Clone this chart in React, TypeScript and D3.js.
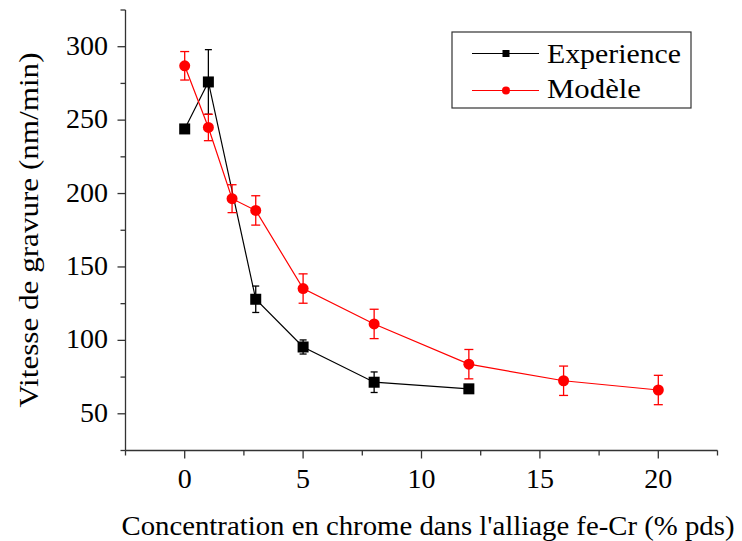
import React from "react";
import * as d3 from "d3";

const expX = [0, 1, 3, 5, 8, 12];
const expY = [244, 276, 128, 95.5, 71.5, 67];
const expErr = [0, 22, 9, 4.8, 7, 0];

const modX = [0, 1, 2, 3, 5, 8, 12, 16, 20];
const modY = [287, 245, 196.5, 188.5, 135.3, 111.2, 83.8, 72.5, 66.2];
const modErr = [9.7, 9, 9.5, 10, 10, 10, 10, 10, 10];

const xTicks = [0, 5, 10, 15, 20];
const yTicks = [50, 100, 150, 200, 250, 300];
const seriesNames = ["Experience", "Modèle"];
const xTitle = "Concentration en chrome dans l'alliage fe-Cr (% pds)";
const yTitle = "Vitesse de gravure (nm/min)";

const FONT = "Liberation Serif, Times New Roman, Times, Tinos, serif";

export default function App() {
  const W = 742, H = 541;
  const x = d3.scaleLinear().domain([-2.5, 22.5]).range([125.5, 717.5]);
  const y = d3.scaleLinear().domain([25, 325]).range([450.5, 10]);
  const minorX = d3.range(-2.5, 22.6, 2.5).filter((v) => !xTicks.includes(v));
  const minorY = d3.range(25, 326, 25).filter((v) => !yTicks.includes(v));

  const expPts = expX.map((v, i) => [x(v), y(expY[i])] as [number, number]);
  const modPts = modX.map((v, i) => [x(v), y(modY[i])] as [number, number]);
  const path = d3.line();

  const errBar = (cx: number, v: number, e: number, color: string, key: string, cap: number) => {
    if (!e) return null;
    const t = y(v + e), b = y(v - e);
    return (
      <g key={key} stroke={color} strokeWidth={1.3} fill="none">
        <line x1={cx} x2={cx} y1={t} y2={b} />
        <line x1={cx - cap} x2={cx + cap} y1={t} y2={t} />
        <line x1={cx - cap} x2={cx + cap} y1={b} y2={b} />
      </g>
    );
  };

  return (
    <div style={{ position: "fixed", left: 0, top: 0 }}>
      <svg width={W} height={H} style={{ display: "block", background: "#fff" }}>
        <rect width={W} height={H} fill="#fff" />
        <g stroke="#333" strokeWidth={1.3}>
          <line x1={x(-2.5)} x2={x(-2.5)} y1={y(325)} y2={y(25)} />
          <line x1={x(-2.5)} x2={x(22.5)} y1={y(25)} y2={y(25)} />
          {yTicks.map((t) => (
            <line key={"yt" + t} x1={x(-2.5) - 8} x2={x(-2.5)} y1={y(t)} y2={y(t)} />
          ))}
          {minorY.map((t) => (
            <line key={"ym" + t} x1={x(-2.5) - 5} x2={x(-2.5)} y1={y(t)} y2={y(t)} />
          ))}
          {xTicks.map((t) => (
            <line key={"xt" + t} x1={x(t)} x2={x(t)} y1={y(25)} y2={y(25) + 8} />
          ))}
          {minorX.map((t) => (
            <line key={"xm" + t} x1={x(t)} x2={x(t)} y1={y(25)} y2={y(25) + 5} />
          ))}
        </g>
        <g fontFamily={FONT} fontSize={28} fill="#000">
          {yTicks.map((t) => (
            <text key={"yl" + t} x={108} y={y(t) + 8} textAnchor="end">{t}</text>
          ))}
          {xTicks.map((t) => (
            <text key={"xl" + t} x={x(t)} y={487.5} textAnchor="middle">{t}</text>
          ))}
          <text x={428} y={535} textAnchor="middle" textLength={613} lengthAdjust="spacingAndGlyphs">{xTitle}</text>
          <text transform={`translate(38,230) rotate(-90)`} textAnchor="middle" textLength={355} lengthAdjust="spacingAndGlyphs">{yTitle}</text>
        </g>
        <path d={path(expPts) || ""} fill="none" stroke="#000" strokeWidth={1.2} />
        <path d={path(modPts) || ""} fill="none" stroke="#ff0000" strokeWidth={1.2} />
        {expX.map((v, i) => errBar(x(v), expY[i], expErr[i], "#000", "ee" + i, 3.5))}
        {modX.map((v, i) => errBar(x(v), modY[i], modErr[i], "#ff0000", "me" + i, 4.5))}
        {expPts.map(([px, py], i) => (
          <rect key={"es" + i} x={px - 5.5} y={py - 5.5} width={11} height={11} fill="#000" />
        ))}
        {modPts.map(([px, py], i) => (
          <circle key={"mc" + i} cx={px} cy={py} r={5.5} fill="#ff0000" />
        ))}
        <rect x={452} y={32} width={239} height={76} fill="#fff" stroke="#333" strokeWidth={1.2} />
        <line x1={472} x2={539} y1={53.5} y2={53.5} stroke="#000" strokeWidth={1.2} />
        <rect x={506 - 3.5} y={53.5 - 3.5} width={7} height={7} fill="#000" />
        <line x1={472} x2={539} y1={90.5} y2={90.5} stroke="#ff0000" strokeWidth={1.2} />
        <circle cx={506} cy={90.5} r={4} fill="#ff0000" />
        <g fontFamily={FONT} fontSize={28} fill="#000">
          <text x={547} y={62.5} textLength={134} lengthAdjust="spacingAndGlyphs">{seriesNames[0]}</text>
          <text x={547} y={97.5} textLength={94} lengthAdjust="spacingAndGlyphs">{seriesNames[1]}</text>
        </g>
      </svg>
    </div>
  );
}
